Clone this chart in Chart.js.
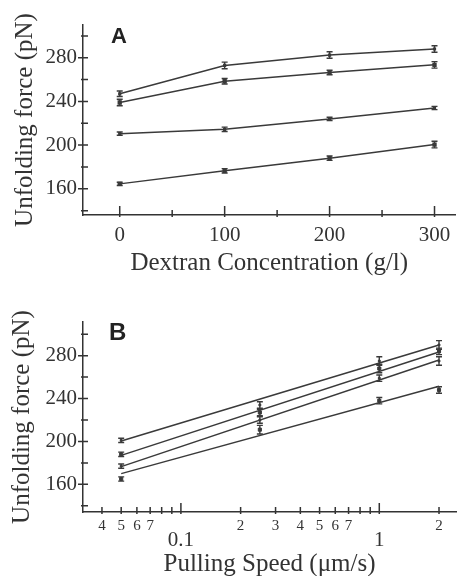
<!DOCTYPE html>
<html>
<head>
<meta charset="utf-8">
<script src="https://cdn.jsdelivr.net/npm/chart.js@4"></script>
<style>
  body { margin: 0; background: #fff; }
  #wrap { position: relative; width: 461px; height: 576px; }
  canvas { position: absolute; left: 0; }
  #graphA { top: 0; }
  #graphB { top: 290px; }
</style>
</head>
<body>
<div id="wrap">
  <canvas id="graphA" width="461" height="290"></canvas>
  <canvas id="graphB" width="461" height="286"></canvas>
</div>
<script>
// panel A: force vs dextran concentration
var dextranConc = [0, 100, 200, 300];
var forceA1 = [247, 273, 282.5, 288];
var forceA2 = [239, 258.5, 266.5, 273.5];
var forceA3 = [210.5, 214.5, 224, 234];
var forceA4 = [164.5, 176.5, 188, 200.5];
var errA1 = [2.5, 3, 3, 3];
var errA2 = [3, 2.5, 2, 3];
var errA3 = [1.5, 2, 1.5, 1.5];
var errA4 = [1.5, 2, 2, 3];
var concTicks = [0, 50, 100, 150, 200, 250, 300];

// panel B: force vs pulling speed (log)
var speeds = [0.05, 0.25, 1, 2];
var fitSpeeds = [0.05, 2];
var fitB1 = [200.5, 290];
var fitB2 = [187, 283.5];
var fitB3 = [176.5, 276];
var fitB4 = [170, 251.5];
var forceB1 = [201, 234, 275, 290];
var forceB2 = [188, 227, 268, 284];
var forceB3 = [177, 220, 259, 275];
var forceB4 = [165, 211, 238, 248];
var errB1 = [2, 3, 4, 4];
var errB2 = [2, 3, 4, 3];
var errB3 = [2, 3, 3, 4];
var errB4 = [2, 4, 3, 3];
var speedTicks = [0.04, 0.05, 0.06, 0.07, 0.08, 0.09, 0.1, 0.2, 0.3, 0.4, 0.5, 0.6, 0.7, 0.8, 0.9, 1, 2];
var speedLabels = ['4', '5', '6', '7', '', '', '', '2', '3', '4', '5', '6', '7', '', '', '', '2'];
var forceTicks = [140, 160, 180, 200, 220, 240, 260, 280, 300];

var ink = '#3a3a3a';
var serif = '"Liberation Serif", "Times New Roman", serif';

function pts(xs, ys) {
  return xs.map(function (x, i) { return { x: x, y: ys[i] }; });
}

const errorBars = {
  id: 'errorBars',
  afterDatasetsDraw(chart) {
    const ctx = chart.ctx;
    const yScale = chart.scales.y;
    chart.data.datasets.forEach(function (ds, i) {
      if (!ds.errors) return;
      const meta = chart.getDatasetMeta(i);
      ctx.save();
      ctx.strokeStyle = ink;
      ctx.lineWidth = 1.4;
      meta.data.forEach(function (p, j) {
        const v = ds.data[j].y;
        const top = yScale.getPixelForValue(v + ds.errors[j]);
        const bot = yScale.getPixelForValue(v - ds.errors[j]);
        ctx.beginPath();
        ctx.moveTo(p.x, top); ctx.lineTo(p.x, bot);
        ctx.moveTo(p.x - 3, top); ctx.lineTo(p.x + 3, top);
        ctx.moveTo(p.x - 3, bot); ctx.lineTo(p.x + 3, bot);
        ctx.stroke();
      });
      ctx.restore();
    });
  }
};

// inward tick marks, panel letter, extra decade labels
const panelDeco = {
  id: 'panelDeco',
  afterDraw(chart, args, opts) {
    const ctx = chart.ctx;
    const xs = chart.scales.x, ys = chart.scales.y;
    const area = chart.chartArea;
    ctx.save();
    ctx.strokeStyle = '#333';
    ctx.lineWidth = 1.5;
    ctx.beginPath();
    xs.ticks.forEach(function (t) {
      const px = xs.getPixelForValue(t.value);
      const len = opts.xMajor(t.value) ? 9 : 5;
      ctx.moveTo(px, area.bottom + 2);
      ctx.lineTo(px, area.bottom - len);
    });
    ys.ticks.forEach(function (t) {
      const py = ys.getPixelForValue(t.value);
      const major = t.value % 40 === 0;
      ctx.moveTo(area.left - (major ? 5 : 2), py);
      ctx.lineTo(area.left + 5, py);
    });
    ctx.stroke();
    ctx.fillStyle = '#222';
    ctx.textBaseline = 'middle';
    ctx.textAlign = 'left';
    ctx.font = 'bold ' + opts.letterSize + 'px "Liberation Sans", Arial, sans-serif';
    ctx.fillText(opts.letter, opts.letterX, opts.letterY);
    ctx.fillStyle = '#333';
    ctx.textAlign = 'center';
    ctx.font = '21px ' + serif;
    (opts.decades || []).forEach(function (d) {
      ctx.fillText(d.text, xs.getPixelForValue(d.value), opts.decadeY);
    });
    ctx.restore();
  }
};

function yAxis(min, max, titlePad) {
  return {
    type: 'linear',
    min: min,
    max: max,
    afterBuildTicks: function (s) { s.ticks = forceTicks.map(function (v) { return { value: v }; }); },
    afterFit: function (s) { s.width = 83; },
    grid: { display: false, drawTicks: false, tickLength: 0 },
    border: { display: true, color: '#333', width: 1.5 },
    ticks: {
      padding: 6,
      autoSkip: false,
      color: '#333',
      font: { family: serif, size: 21 },
      callback: function (v) { return v % 40 === 0 ? String(v) : ''; }
    },
    title: {
      display: true,
      text: 'Unfolding force (pN)',
      color: '#333',
      font: { family: serif, size: 25 },
      padding: { top: titlePad, bottom: 0 }
    }
  };
}

function lineSet(data, errs, withMarks) {
  return {
    data: data,
    errors: errs,
    borderColor: ink,
    backgroundColor: ink,
    borderWidth: 1.5,
    pointStyle: 'rect',
    pointRadius: withMarks ? 2 : 1.2,
    showLine: true,
    tension: 0
  };
}

var configA = {
  type: 'line',
  data: {
    datasets: [
      lineSet(pts(dextranConc, forceA1), errA1, false),
      lineSet(pts(dextranConc, forceA2), errA2, true),
      lineSet(pts(dextranConc, forceA3), errA3, false),
      lineSet(pts(dextranConc, forceA4), errA4, true)
    ]
  },
  options: {
    responsive: false,
    animation: false,
    layout: { padding: { top: 25, right: 1, bottom: 0, left: 0 } },
    plugins: {
      legend: { display: false },
      tooltip: { enabled: false },
      panelDeco: {
        letter: 'A', letterSize: 22, letterX: 111, letterY: 37,
        xMajor: function (v) { return v % 100 === 0; }
      }
    },
    scales: {
      x: {
        type: 'linear',
        min: -35,
        max: 320,
        afterBuildTicks: function (s) { s.ticks = concTicks.map(function (v) { return { value: v }; }); },
        afterFit: function (s) { s.height = 75; },
        grid: { display: false, drawTicks: false, tickLength: 0 },
        border: { display: true, color: '#333', width: 1.5 },
        ticks: {
          padding: 8,
          maxRotation: 0,
          autoSkip: false,
          color: '#333',
          font: { family: serif, size: 21 },
          callback: function (v) { return v % 100 === 0 ? String(v) : ''; }
        },
        title: {
          display: true,
          text: 'Dextran Concentration (g/l)',
          color: '#333',
          font: { family: serif, size: 25 },
          padding: { top: 0, bottom: 12 }
        }
      },
      y: yAxis(136, 310, 10)
    }
  },
  plugins: [errorBars, panelDeco]
};

var fitStyle = function (ys) {
  return {
    data: pts(fitSpeeds, ys),
    borderColor: ink,
    borderWidth: 1.5,
    pointRadius: 0,
    showLine: true,
    tension: 0
  };
};
var pointStyleB = function (ys, errs, big) {
  return {
    data: pts(speeds, ys),
    errors: errs,
    borderColor: ink,
    backgroundColor: ink,
    pointStyle: 'rect',
    pointRadius: big ? 2.2 : 1.3,
    showLine: false
  };
};

var configB = {
  type: 'line',
  data: {
    datasets: [
      fitStyle(fitB1), fitStyle(fitB2), fitStyle(fitB3), fitStyle(fitB4),
      pointStyleB(forceB1, errB1, false),
      pointStyleB(forceB2, errB2, true),
      pointStyleB(forceB3, errB3, false),
      pointStyleB(forceB4, errB4, true)
    ]
  },
  options: {
    responsive: false,
    animation: false,
    layout: { padding: { top: 32, right: 0, bottom: 0, left: 0 } },
    plugins: {
      legend: { display: false },
      tooltip: { enabled: false },
      panelDeco: {
        letter: 'B', letterSize: 24, letterX: 109, letterY: 43,
        xMajor: function (v) { return Math.abs(v - 0.1) < 1e-9 || Math.abs(v - 1) < 1e-9; },
        decades: [{ value: 0.1, text: '0.1' }, { value: 1, text: '1' }],
        decadeY: 250
      }
    },
    scales: {
      x: {
        type: 'logarithmic',
        min: 0.0321,
        max: 2.436,
        afterBuildTicks: function (s) { s.ticks = speedTicks.map(function (v) { return { value: v }; }); },
        afterFit: function (s) { s.height = 64; },
        grid: { display: false, drawTicks: false, tickLength: 0 },
        border: { display: true, color: '#333', width: 1.5 },
        ticks: {
          padding: 5,
          maxRotation: 0,
          autoSkip: false,
          color: '#333',
          font: { family: serif, size: 15 },
          callback: function (v, i) { return speedLabels[i]; }
        },
        title: {
          display: true,
          text: 'Pulling Speed (\u03bcm/s)',
          color: '#333',
          font: { family: serif, size: 25 },
          padding: { top: 0, bottom: -3 }
        }
      },
      y: yAxis(134.2, 311.4, 7)
    }
  },
  plugins: [errorBars, panelDeco]
};

var chartA = new Chart(document.getElementById('graphA'), configA);
var chartB = new Chart(document.getElementById('graphB'), configB);
</script>
</body>
</html>
